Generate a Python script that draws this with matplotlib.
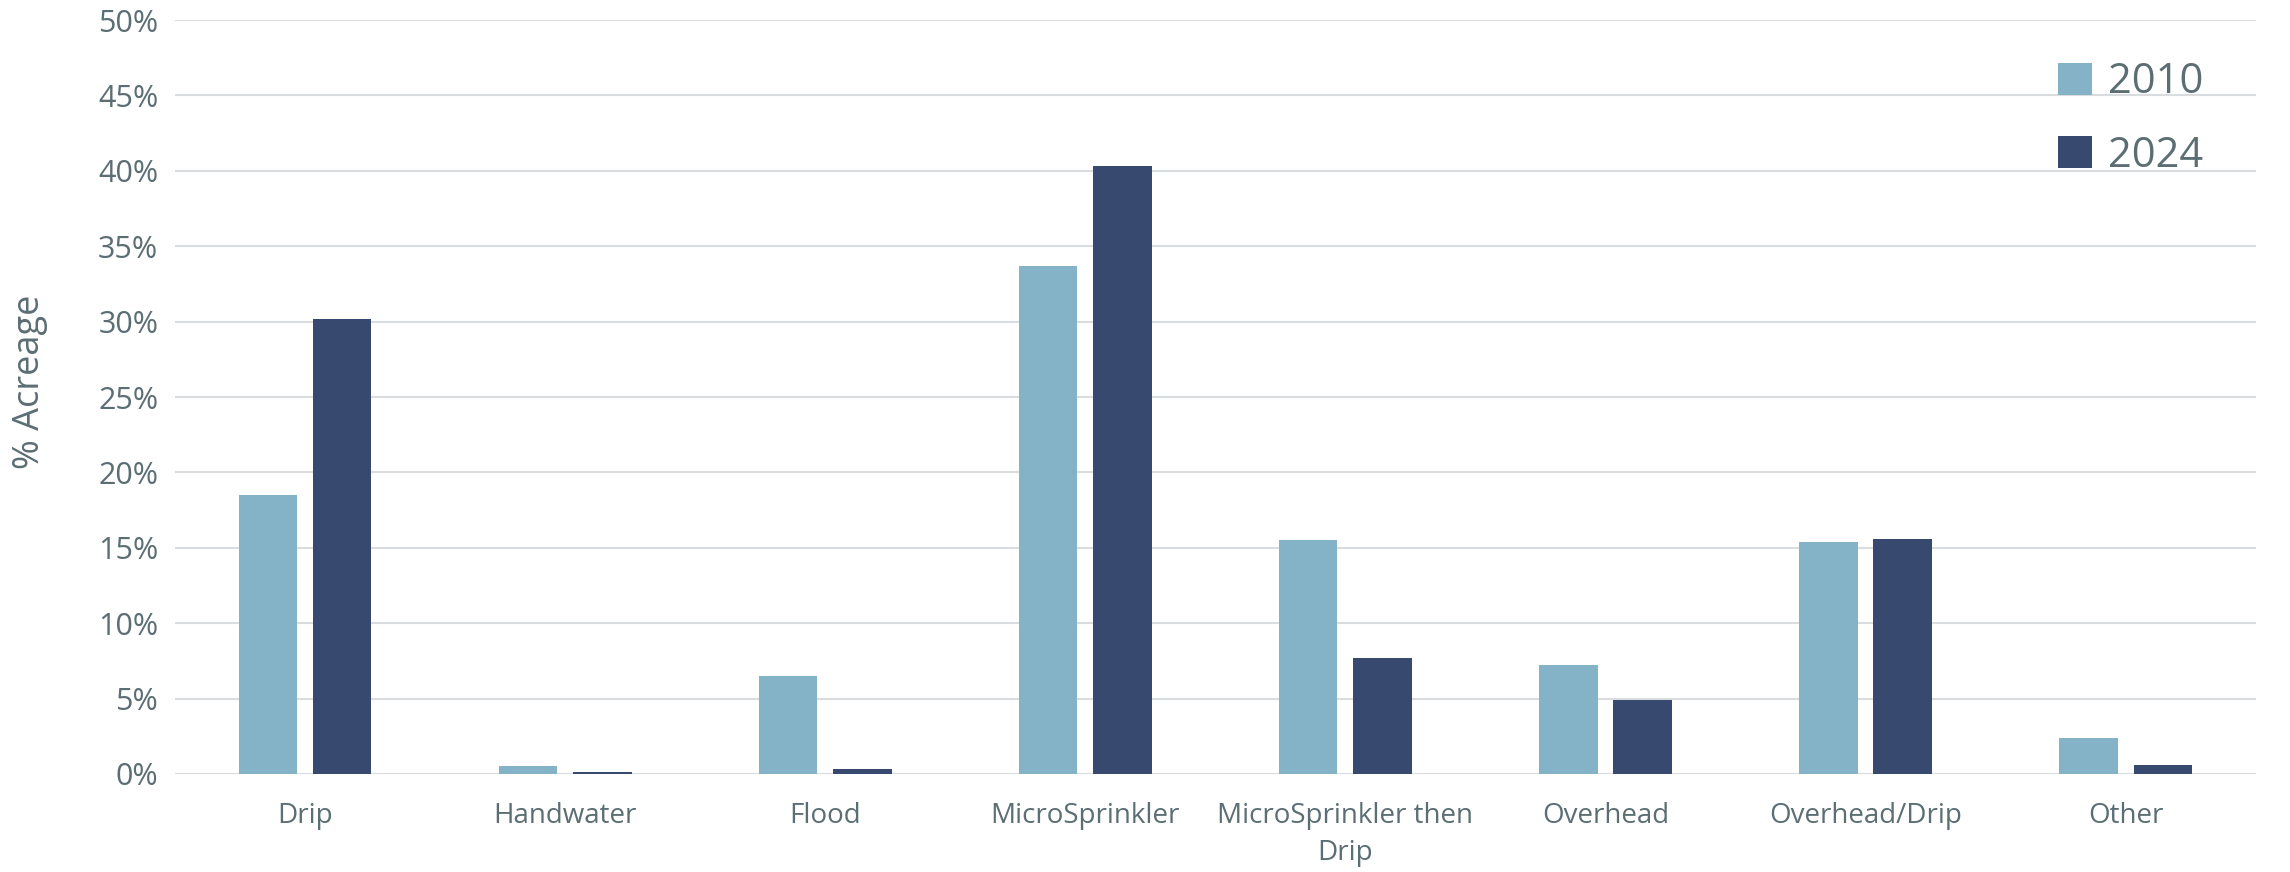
import matplotlib.pyplot as plt
import numpy as np
from matplotlib.ticker import PercentFormatter

# irrigation method share of acreage, 2010 vs 2024
methods = ['Drip', 'Handwater', 'Flood', 'MicroSprinkler', 'MicroSprinkler then\nDrip',
           'Overhead', 'Overhead/Drip', 'Other']
acreage_2010 = [18.5, 0.5, 6.5, 33.7, 15.5, 7.2, 15.4, 2.4]
acreage_2024 = [30.2, 0.1, 0.3, 40.3, 7.7, 4.9, 15.6, 0.6]

text_color = '#5b6e74'
light = '#84b3c7'
dark = '#37496e'

plt.rcParams['font.family'] = ['Open Sans', 'DejaVu Sans']

fig = plt.figure(figsize=(22.9, 8.72), dpi=100)
ax = fig.add_axes([0.0764, 0.1124, 0.9086, 0.8646])

x = np.arange(len(methods))
w = 0.225
off = 0.143
ax.bar(x - off, acreage_2010, w, color=light, label='2010', zorder=3)
ax.bar(x + off, acreage_2024, w, color=dark, label='2024', zorder=3)

ax.set_xlim(-0.5, len(methods) - 0.5)
ax.set_ylim(0, 50)
ax.set_yticks(np.arange(0, 51, 5))
ax.yaxis.set_major_formatter(PercentFormatter(decimals=0))
ax.grid(axis='y', color='#d9dde0', linewidth=1.5, zorder=0)

for s in ax.spines.values():
    s.set_visible(False)

ax.set_xticks(x)
ax.set_xticklabels(methods, fontsize=20, color=text_color, linespacing=1.45)
ax.tick_params(axis='x', length=0, pad=20)
ax.tick_params(axis='y', length=0, pad=12, labelsize=22, labelcolor=text_color)

ax.set_ylabel('% Acreage', fontsize=26, color=text_color)
ax.yaxis.set_label_coords(-0.061, 0.52)

leg = ax.legend(loc='upper right', bbox_to_anchor=(0.993, 0.995), frameon=False,
                fontsize=30, handlelength=0.8, handleheight=0.8, handletextpad=0.4,
                labelspacing=0.75)
for t in leg.get_texts():
    t.set_color(text_color)

fig.savefig('out.png', dpi=100)
